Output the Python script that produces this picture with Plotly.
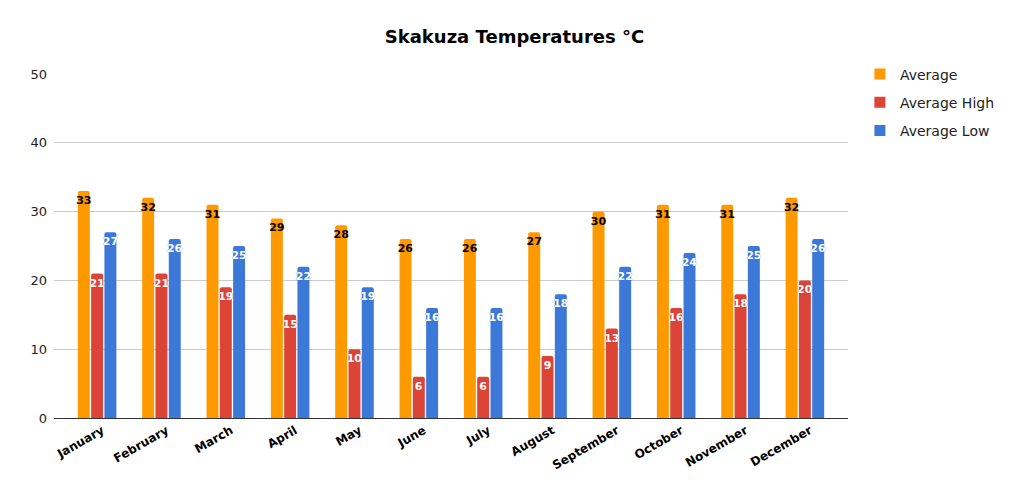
import plotly.graph_objects as go

months = ["January", "February", "March", "April", "May", "June", "July",
          "August", "September", "October", "November", "December"]
average = [33, 32, 31, 29, 28, 26, 26, 27, 30, 31, 31, 32]
average_high = [21, 21, 19, 15, 10, 6, 6, 9, 13, 16, 18, 20]
average_low = [27, 26, 25, 22, 19, 16, 16, 18, 22, 24, 25, 26]

series = [
    ("Average", average, "#FF9900", "#000000"),
    ("Average High", average_high, "#DB4437", "#FFFFFF"),
    ("Average Low", average_low, "#3C78D8", "#FFFFFF"),
]

fig = go.Figure()
for name, vals, color, tcolor in series:
    fig.add_trace(go.Bar(
        name=name, x=months, y=vals, showlegend=False,
        marker=dict(color=color, cornerradius=2, line=dict(width=0)),
        text=[str(v) for v in vals],
        textposition="inside", insidetextanchor="end",
        textangle=0, constraintext="none", cliponaxis=False,
        textfont=dict(family="DejaVu Sans", size=11, color=tcolor, weight="bold",
                      shadow="0px 0px 1px " + color),
        hoverinfo="skip",
    ))
# legend entries with square swatches
for name, vals, color, tcolor in series:
    fig.add_trace(go.Scatter(
        name=name, x=[None], y=[None], mode="markers", legendgroup=name,
        marker=dict(symbol="square", size=11, color=color),
        hoverinfo="skip",
    ))

fig.update_layout(
    width=1013, height=491,
    paper_bgcolor="white", plot_bgcolor="white",
    margin=dict(l=46, r=173, t=66, b=81),
    barmode="group", bargap=0.38, bargroupgap=0.1,
    title=dict(text="<b>Skakuza Temperatures °C</b>", x=0.5, xanchor="center",
               y=1 - 29 / 491, yanchor="middle",
               font=dict(family="DejaVu Sans", size=18, color="#000000")),
    legend=dict(x=1.015, xanchor="left", y=1.045, yanchor="top",
                font=dict(family="DejaVu Sans", size=14, color="#222222"),
                tracegroupgap=7, traceorder="grouped"),
    xaxis=dict(range=[-0.67, 11.67], showgrid=False, showline=True,
               linecolor="#333333", linewidth=1, tickangle=-30, ticks="",
               ticklabelshift=5,
               tickfont=dict(family="DejaVu Sans", size=12, color="#000000", weight="bold"),
               fixedrange=True),
    yaxis=dict(range=[0, 50], dtick=10, showgrid=True, gridcolor="#CCCCCC",
               gridwidth=1, zeroline=False, showline=False, ticks="",
               ticklabelstandoff=6,
               tickfont=dict(family="DejaVu Sans", size=13, color="#222222"),
               fixedrange=True),
)

fig.write_html("out.html")
